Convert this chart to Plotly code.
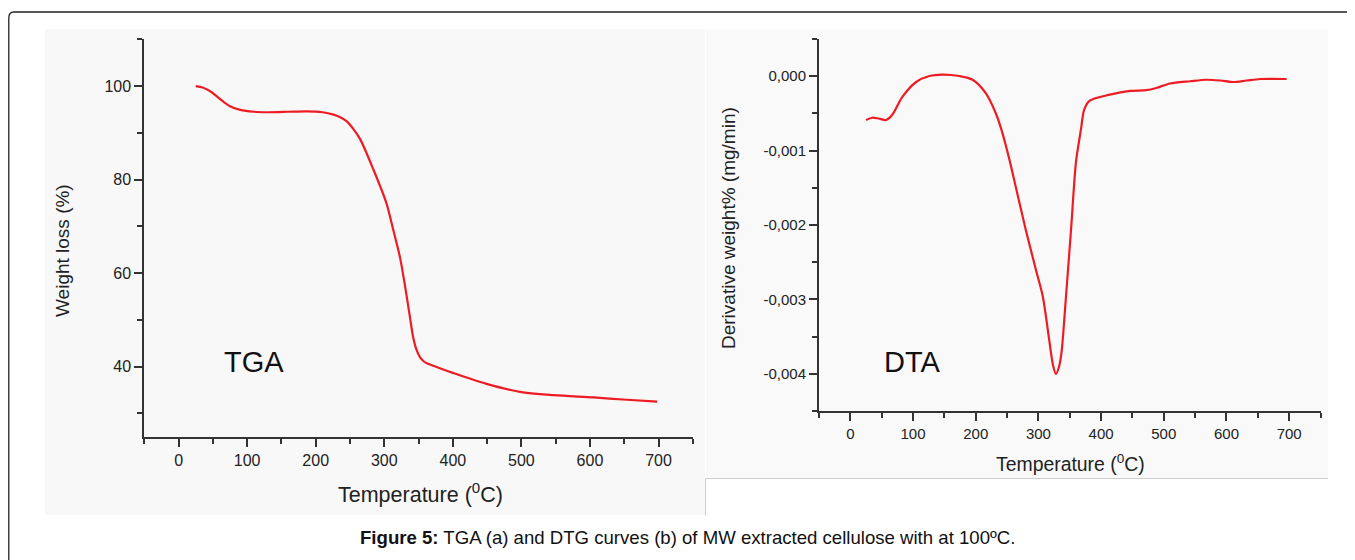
import plotly.graph_objects as go

# The page body has an 8px default margin; the figure is sized so that it
# fills the 1355x560 window exactly.
OFF = 8
W, H = 1355 - OFF, 560 - OFF

# ---------------- data ----------------
tga_temp = [25, 35, 45, 55, 65, 75, 90, 110, 130, 160, 187, 210, 226, 235, 245, 255,
            265, 284, 303, 313, 323, 330, 337, 342, 347, 352, 357, 362, 380, 401, 449,
            498, 547, 605, 654, 698]
tga_weight = [100, 99.7, 99.0, 97.9, 96.7, 95.7, 94.9, 94.5, 94.4, 94.5, 94.6, 94.4,
              93.9, 93.4, 92.5, 90.8, 88.6, 82.2, 75.0, 69.3, 63.3, 57.5, 51.0, 46.4,
              43.6, 42.0, 41.2, 40.7, 39.7, 38.6, 36.3, 34.6, 33.9, 33.4, 32.9, 32.5]

dta_temp = [25, 35, 45, 57, 67, 83, 105, 126, 147, 174, 195, 216, 232, 241, 254, 259,
            280, 296, 307, 318, 323, 328, 333, 337, 344, 352, 360, 368, 373, 382, 414,
            446, 472, 488, 510, 542, 568, 590, 611, 632, 654, 696]
dta_deriv = [-0.00059, -0.00056, -0.00057, -0.00059, -0.00052, -0.00028, -0.00008,
             0.0, 0.00002, 0.0, -0.00005, -0.00023, -0.00050, -0.00072, -0.00113,
             -0.00131, -0.00207, -0.00260, -0.00296, -0.00359, -0.00387, -0.00400,
             -0.00390, -0.00370, -0.00296, -0.00207, -0.00115, -0.00071, -0.00045,
             -0.00033, -0.00025, -0.00020, -0.00019, -0.00016, -0.00010, -0.00007,
             -0.00005, -0.00006, -0.00008, -0.00006, -0.00004, -0.00004]

temp_ticks = [0, 100, 200, 300, 400, 500, 600, 700]
temp_ticktext = ["0", "100", "200", "300", "400", "500", "600", "700"]
temp_minor = [-50, 50, 150, 250, 350, 450, 550, 650, 750]

tga_ticks = [40, 60, 80, 100]
tga_ticktext = ["40", "60", "80", "100"]
tga_minor = [30, 50, 70, 90, 110]

dta_ticks = [-0.004, -0.003, -0.002, -0.001, 0.0]
dta_ticktext = ["-0,004", "-0,003", "-0,002", "-0,001", "0,000"]
dta_minor = [-0.0045, -0.0035, -0.0025, -0.0015, -0.0005, 0.0005]

caption = "<b>Figure 5:</b> TGA (a) and DTG curves (b) of MW extracted cellulose with at 100ºC."

# ---------------- helpers (window pixels -> paper fractions) ----------------
def px(x):
    return (x - OFF) / W

def py(y):
    return 1 - (y - OFF) / H

FONT = "Arial, Liberation Sans, sans-serif"
AX = "#333333"
RED = "rgb(237,28,36)"

fig = go.Figure()
fig.add_trace(go.Scatter(x=tga_temp, y=tga_weight, mode="lines",
                         line=dict(color=RED, width=2.2, shape="spline", smoothing=0.8),
                         xaxis="x", yaxis="y", showlegend=False, hoverinfo="skip"))
fig.add_trace(go.Scatter(x=dta_temp, y=dta_deriv, mode="lines",
                         line=dict(color=RED, width=2.2, shape="spline", smoothing=0.8),
                         xaxis="x2", yaxis="y2", showlegend=False, hoverinfo="skip"))

def xax(domain, anchor, size):
    return dict(domain=domain, anchor=anchor, range=[-50, 750], showline=True,
                linecolor=AX, linewidth=2, ticks="outside", ticklen=8, tickwidth=1.5,
                tickcolor=AX, tickmode="array", tickvals=temp_ticks, ticktext=temp_ticktext,
                minor=dict(tickmode="array", tickvals=temp_minor, ticks="outside",
                           ticklen=5, tickwidth=1.5, tickcolor=AX),
                showgrid=False, zeroline=False, fixedrange=True,
                tickfont=dict(family=FONT, size=size, color="#222"))

def yax(domain, anchor, rng, tv, tt, minor, size):
    return dict(domain=domain, anchor=anchor, range=rng, showline=True,
                linecolor=AX, linewidth=2, ticks="outside", ticklen=8, tickwidth=1.5,
                tickcolor=AX, tickmode="array", tickvals=tv, ticktext=tt,
                minor=dict(tickmode="array", tickvals=minor, ticks="outside",
                           ticklen=5, tickwidth=1.5, tickcolor=AX),
                showgrid=False, zeroline=False, fixedrange=True,
                tickfont=dict(family=FONT, size=size, color="#222"))

fig.update_layout(
    width=W, height=H,
    margin=dict(l=0, r=0, t=0, b=0),
    paper_bgcolor="white",
    plot_bgcolor="rgba(0,0,0,0)",
    xaxis=xax([px(144.3), px(692.8)], "y", 16),
    yaxis=yax([py(436.7), py(39.3)], "x", [25, 110], tga_ticks, tga_ticktext, tga_minor, 16),
    xaxis2=xax([px(819), px(1320.5)], "y2", 15),
    yaxis2=yax([py(411.2), py(38.8)], "x2", [-0.0045, 0.0005], dta_ticks, dta_ticktext, dta_minor, 15),
)

shapes = [
    # panel backgrounds
    dict(type="rect", xref="paper", yref="paper", x0=px(45), x1=px(705), y0=py(515), y1=py(29),
         fillcolor="#f8f8f8", line=dict(width=0), layer="below"),
    dict(type="rect", xref="paper", yref="paper", x0=px(706), x1=px(1328), y0=py(478), y1=py(29),
         fillcolor="#f9f9f9", line=dict(width=0), layer="below"),
    dict(type="path", xref="paper", yref="paper",
         path=f"M{px(705.5)},{py(515)} L{px(705.5)},{py(478.5)} L{px(1328)},{py(478.5)}",
         line=dict(color="#cfcfcf", width=1), layer="below"),
    # outer rounded frame
    dict(type="path", xref="paper", yref="paper",
         path=(f"M{px(8.8)},{py(575)} L{px(8.8)},{py(18)} Q{px(8.8)},{py(12)} {px(14)},{py(12)} "
               f"L{px(1365)},{py(12)}"),
         line=dict(color="#222", width=1.3), layer="above"),
]
fig.update_layout(shapes=shapes)

ann = [
    dict(text="Weight loss (%)", x=px(62), y=py(251), textangle=-90,
         font=dict(family=FONT, size=19, color="#222")),
    dict(text="Temperature (<sup>0</sup>C)", x=px(420), y=py(493),
         font=dict(family=FONT, size=21.5, color="#222")),
    dict(text="Derivative weight% (mg/min)", x=px(728), y=py(228), textangle=-90,
         font=dict(family=FONT, size=19, color="#222")),
    dict(text="Temperature (<sup>0</sup>C)", x=px(1070), y=py(463),
         font=dict(family=FONT, size=19.4, color="#222")),
    dict(text="TGA", x=px(254), y=py(362), font=dict(family=FONT, size=29, color="#111")),
    dict(text="DTA", x=px(912), y=py(362), font=dict(family=FONT, size=29, color="#111")),
    dict(text=caption, x=px(687), y=py(537), font=dict(family=FONT, size=18.6, color="#111")),
]
for a in ann:
    a.update(xref="paper", yref="paper", showarrow=False, xanchor="center", yanchor="middle")
fig.update_layout(annotations=ann)

fig.write_html("out.html")
